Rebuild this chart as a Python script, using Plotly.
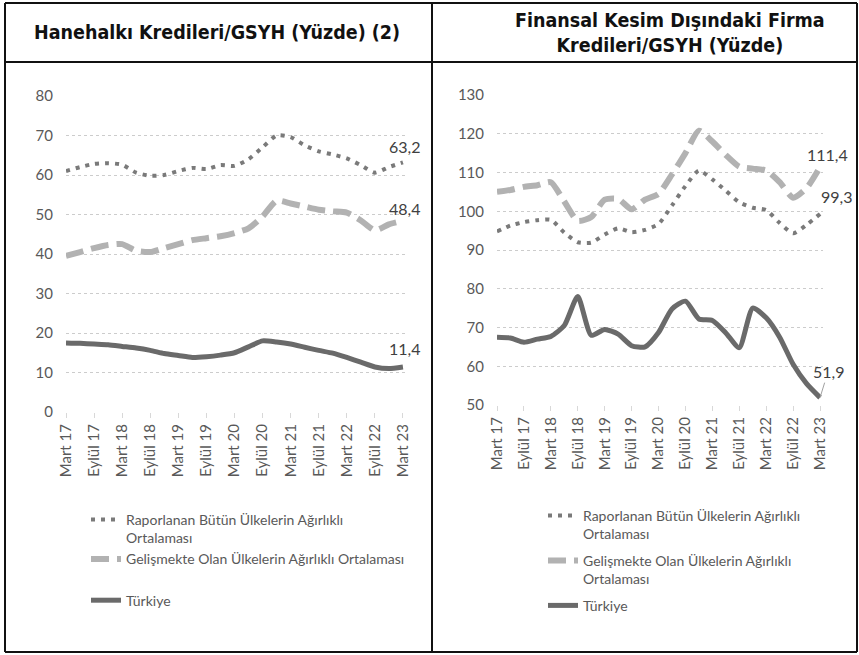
import plotly.graph_objects as go

# ---------------- data ----------------
quarters = [
    "Mart 17", "Haziran 17", "Eylül 17", "Aralık 17",
    "Mart 18", "Haziran 18", "Eylül 18", "Aralık 18",
    "Mart 19", "Haziran 19", "Eylül 19", "Aralık 19",
    "Mart 20", "Haziran 20", "Eylül 20", "Aralık 20",
    "Mart 21", "Haziran 21", "Eylül 21", "Aralık 21",
    "Mart 22", "Haziran 22", "Eylül 22", "Aralık 22",
    "Mart 23",
]
tick_labels = quarters[::2]

series_names = [
    "Raporlanan Bütün Ülkelerin Ağırlıklı<br>Ortalaması",
    "Gelişmekte Olan Ülkelerin Ağırlıklı Ortalaması",
    "Türkiye",
]
series_names_right = [
    "Raporlanan Bütün Ülkelerin Ağırlıklı<br>Ortalaması",
    "Gelişmekte Olan Ülkelerin Ağırlıklı<br>Ortalaması",
    "Türkiye",
]

# Household credit / GDP (%)
hh_all = [61.0, 62.0, 62.8, 63.0, 62.6, 60.6, 59.8, 60.0, 61.0, 61.8, 61.5, 62.5,
          62.3, 64.0, 67.0, 70.0, 69.6, 67.5, 66.0, 65.2, 64.2, 62.5, 60.6, 62.0, 63.2]
hh_em = [39.5, 40.5, 41.5, 42.3, 42.5, 40.8, 40.5, 41.5, 42.5, 43.5, 44.0, 44.5,
         45.3, 46.5, 49.5, 53.5, 52.8, 52.0, 51.2, 50.8, 50.5, 48.5, 46.0, 47.5, 48.4]
hh_tr = [17.5, 17.4, 17.2, 17.0, 16.6, 16.2, 15.6, 14.8, 14.3, 13.8, 14.0, 14.4,
         15.0, 16.5, 18.0, 17.7, 17.2, 16.4, 15.6, 14.9, 13.8, 12.6, 11.4, 11.0, 11.4]

# Non-financial corporate credit / GDP (%)
nf_all = [94.8, 96.3, 97.2, 97.7, 97.8, 94.5, 92.0, 91.9, 94.0, 95.6, 94.6, 95.2,
          96.7, 101.5, 106.5, 110.5, 108.2, 105.3, 102.3, 100.9, 100.3, 97.0, 94.3, 96.5, 99.3]
nf_em = [105.0, 105.5, 106.3, 106.7, 107.5, 102.5, 97.5, 98.5, 103.0, 103.2, 100.5, 103.0,
         104.5, 109.5, 115.0, 120.8, 118.0, 114.5, 111.5, 111.0, 110.5, 107.5, 103.5, 106.0, 111.4]
nf_tr = [67.5, 67.3, 66.2, 67.0, 67.7, 70.5, 78.0, 68.0, 69.5, 68.3, 65.3, 65.0,
         68.7, 74.8, 76.8, 72.2, 71.8, 68.6, 64.8, 75.0, 72.5, 67.5, 60.5, 55.5, 51.9]

left_yticks = [0, 10, 20, 30, 40, 50, 60, 70, 80]
right_yticks = [50, 60, 70, 80, 90, 100, 110, 120, 130]

titles = ["Hanehalkı Kredileri/GSYH (Yüzde) (2)",
          "Finansal Kesim Dışındaki Firma<br>Kredileri/GSYH (Yüzde)"]

# ---------------- style ----------------
W, H = 859, 655
FONT = "Lato, Carlito, 'Open Sans', sans-serif"
TITLE_FONT = "'DejaVu Sans Condensed', 'Liberation Sans Narrow', 'Roboto Condensed', 'DejaVu Sans', sans-serif"
C_ALL = "#7a7a7a"
C_EM = "#b2b2b2"
C_TR = "#6a6a6a"
styles = [
    dict(color=C_ALL, width=4, dash="4px,6px"),
    dict(color=C_EM, width=6, dash="18px,8px"),
    dict(color=C_TR, width=5, dash="solid"),
]
left_groups = ["a", "a", "b"]
right_groups = ["c", "d", "e"]

def px_x(p):
    return p / W

def px_y(p):
    return 1 - p / H

fig = go.Figure()

for vals, name, st, g in zip([hh_all, hh_em, hh_tr], series_names, styles, left_groups):
    fig.add_trace(go.Scatter(
        x=quarters, y=vals, name=name, mode="lines", legendgroup=g,
        line=dict(color=st["color"], width=st["width"], dash=st["dash"],
                  shape="spline", smoothing=0.6),
        xaxis="x", yaxis="y", legend="legend", hoverinfo="skip",
    ))
for vals, name, st, g in zip([nf_all, nf_em, nf_tr], series_names_right, styles, right_groups):
    fig.add_trace(go.Scatter(
        x=quarters, y=vals, name=name, mode="lines", legendgroup=g,
        line=dict(color=st["color"], width=st["width"], dash=st["dash"],
                  shape="spline", smoothing=0.6),
        xaxis="x2", yaxis="y2", legend="legend2", hoverinfo="skip",
    ))

def fmt(v):
    return f"{v:.1f}".replace(".", ",")

lab_font = dict(family=FONT, size=16, color="#404040")
last = quarters[-1]
# left labels
for vals, ys in [(hh_all, 16), (hh_em, 12), (hh_tr, 18)]:
    fig.add_annotation(x=last, y=vals[-1], xref="x", yref="y", text=fmt(vals[-1]),
                       showarrow=False, yshift=ys, xshift=2, font=lab_font)
# right labels
fig.add_annotation(x=last, y=nf_em[-1], xref="x2", yref="y2", text=fmt(nf_em[-1]),
                   showarrow=False, yshift=13, xshift=7, font=lab_font)
fig.add_annotation(x=last, y=nf_all[-1], xref="x2", yref="y2", text=fmt(nf_all[-1]),
                   showarrow=False, yshift=17, xshift=16, font=lab_font)
fig.add_annotation(x=last, y=nf_tr[-1], xref="x2", yref="y2", text=fmt(nf_tr[-1]),
                   showarrow=True, arrowhead=0, arrowwidth=1, arrowcolor="#a0a0a0",
                   ax=8, ay=-26, font=lab_font)

# titles
for t, cx, cy in [(titles[0], 217, 33), (titles[1], 670, 33)]:
    fig.add_annotation(x=px_x(cx), y=px_y(cy), xref="paper", yref="paper", text=f"<b>{t}</b>",
                       showarrow=False, xanchor="center", yanchor="middle",
                       font=dict(family=TITLE_FONT, size=19.5, color="#111111"))

# table borders
border = dict(color="#111111", width=2)
for x0, y0, x1, y1 in [(5, 3, 857, 3), (5, 62, 857, 62), (5, 652, 857, 652),
                       (5, 3, 5, 652), (432, 3, 432, 652), (857, 3, 857, 652)]:
    fig.add_shape(type="line", xref="paper", yref="paper",
                  x0=px_x(x0), y0=px_y(y0), x1=px_x(x1), y1=px_y(y1), line=border)

tick_font = dict(family=FONT, size=15, color="#595959")
xcommon = dict(type="category", tickmode="array", tickvals=tick_labels, ticktext=tick_labels,
               tickangle=-90, tickfont=tick_font, showgrid=False, zeroline=False,
               showline=False, ticks="outside", ticklen=5, tickcolor="#d8d8d8",
               automargin=False)
ycommon = dict(tickmode="array", tickfont=tick_font, showgrid=True, gridcolor="#cccccc",
               griddash="dot", gridwidth=1, zeroline=False, showline=False, ticks="",
               ticklabelstandoff=12, automargin=False)

fig.update_layout(
    width=W, height=H, margin=dict(l=0, r=0, t=0, b=0, autoexpand=False),
    paper_bgcolor="white", plot_bgcolor="white",
    xaxis=dict(xcommon, domain=[px_x(66), px_x(408)], range=[0, 24.36], anchor="y"),
    yaxis=dict(ycommon, domain=[px_y(412), px_y(96)], range=[0, 80], tickvals=left_yticks,
               anchor="x"),
    xaxis2=dict(xcommon, domain=[px_x(497), px_x(823)], range=[0, 24.22], anchor="y2"),
    yaxis2=dict(ycommon, domain=[px_y(405), px_y(95)], range=[50, 130], tickvals=right_yticks,
                anchor="x2"),
    legend=dict(x=px_x(86), y=px_y(504), xanchor="left", yanchor="top",
                font=dict(family=FONT, size=14, color="#595959"), valign="top",
                bgcolor="rgba(0,0,0,0)", tracegroupgap=20, groupclick="toggleitem"),
    legend2=dict(x=px_x(543), y=px_y(500), xanchor="left", yanchor="top",
                 font=dict(family=FONT, size=14, color="#595959"), valign="top",
                 bgcolor="rgba(0,0,0,0)", tracegroupgap=5.5, groupclick="toggleitem"),
    showlegend=True,
)

fig.write_html(
    "out.html",
    config={"displayModeBar": False},
    post_script="document.body.style.margin='0';document.body.style.overflow='hidden';",
)
